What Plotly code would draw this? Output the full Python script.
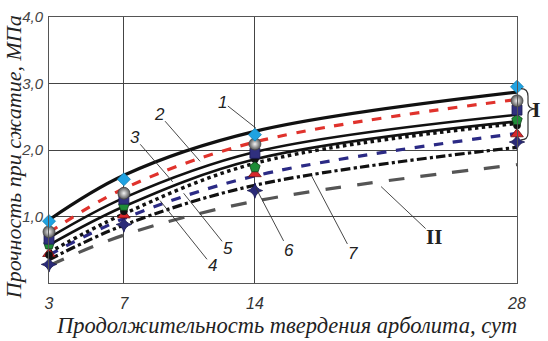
import plotly.graph_objects as go

# ---- data ----
days = [3, 7, 14, 28]

# fitted curves (lines)
curve_1 = [0.95, 1.62, 2.28, 2.87]   # black solid
curve_2 = [0.76, 1.42, 2.12, 2.76]   # red dashed
curve_3 = [0.68, 1.28, 1.97, 2.53]   # black solid
curve_4 = [0.57, 1.15, 1.86, 2.43]   # black solid
curve_5 = [0.46, 1.04, 1.80, 2.40]   # black dotted
curve_6 = [0.42, 0.97, 1.61, 2.25]   # blue dashed
curve_7 = [0.35, 0.87, 1.47, 2.04]   # black dash-dot
curve_II = [0.26, 0.72, 1.23, 1.78]  # grey long dash

# experimental points (markers)
pts_diamond = [0.93, 1.56, 2.23, 2.95]
pts_sphere = [0.77, 1.35, 2.09, 2.74]
pts_square = [0.66, 1.26, 1.95, 2.60]
pts_dot = [0.42, 1.08, 1.86, 2.37]
pts_pentagon = [0.58, 1.16, 1.74, 2.45]
pts_triangle = [0.44, 1.02, 1.64, 2.24]
pts_star = [0.28, 0.88, 1.39, 2.12]

x_ticks = [3, 7, 14, 28]
x_ticktext = ["3", "7", "14", "28"]
y_ticks = [0, 1, 2, 3, 4]
y_ticktext = ["", "1,0", "2,0", "3,0", "4,0"]

labels = ["1", "2", "3", "4", "5", "6", "7", "II"]
label_x = [14.05, 11.07, 9.61, 8.93, 10.19, 14.05, 17.03, 20.74]
label_y = [2.33, 1.83, 1.52, 1.24, 1.35, 1.43, 1.61, 1.45]
label_dx = [-33, -41, -38, 52, 44, 33, 41, 53]
label_dy = [-26, -47, -44, 65, 55, 63, 78, 50]

x_title = "Продолжительность твердения арболита, сут"
y_title = "Прочность при сжатие, МПа"

# ---- figure ----
W, H = 548, 341
ML, MR, MT, MB = 49, 31, 8, 58
PW, PH = W - ML - MR, H - MT - MB


def px(xp):
    return (xp - ML) / PW


def py(yp):
    return (H - MB - yp) / PH


fig = go.Figure()

line_specs = [
    (curve_II, "#555555", "longdash", 3.2),
    (curve_7, "#111111", "dashdot", 3.2),
    (curve_6, "#2b2a85", "dash", 3.2),
    (curve_5, "#111111", "dot", 3.5),
    (curve_4, "#111111", "solid", 2.6),
    (curve_3, "#111111", "solid", 2.6),
    (curve_2, "#e0322c", "dash", 3.2),
    (curve_1, "#111111", "solid", 3.2),
]
for ys, col, dash, w in line_specs:
    fig.add_trace(go.Scatter(x=days, y=ys, mode="lines",
                             line=dict(color=col, width=w, dash=dash, shape="spline"),
                             showlegend=False, hoverinfo="skip", cliponaxis=False))

marker_specs = [
    (pts_star, "star-diamond", "#2a2a78", 11, "#1a1a50", None),
    (pts_triangle, "triangle-up", "#d8262a", 11, "#701010", None),
    (pts_dot, "circle", "#111111", 7, "#111111", None),
    (pts_pentagon, "pentagon", "#1e8c36", 11, "#103c18", None),
    (pts_square, "square", "#30307e", 10, "#1a1a50", None),
    (pts_sphere, "circle", "#555555", 12, "#444444", "#f4f4f4"),
    (pts_diamond, "diamond", "#1fa2e2", 10, "#1580b0", None),
]
for ys, sym, col, size, lc, grad in marker_specs:
    m = dict(symbol=sym, color=col, size=size, line=dict(color=lc, width=0.8))
    if grad:
        m["gradient"] = dict(type="radial", color=grad)
    fig.add_trace(go.Scatter(x=days, y=ys, mode="markers", marker=m,
                             showlegend=False, hoverinfo="skip", cliponaxis=False))

annotations = []
for t, x, y, dx, dy in zip(labels, label_x, label_y, label_dx, label_dy):
    bold = t == "II"
    annotations.append(dict(
        x=x, y=y, xref="x", yref="y", text=("<b>%s</b>" % t) if bold else t,
        showarrow=True, arrowhead=0, arrowwidth=0.9, arrowcolor="#333333",
        ax=dx, ay=dy, axref="pixel", ayref="pixel",
        font=dict(family="Liberation Serif" if bold else "Liberation Sans",
                  size=21 if bold else 17, color="#222222",
                  style="normal" if bold else "italic"),
        standoff=0, borderpad=0,
    ))

annotations.append(dict(x=px(543), y=py(104), xref="paper", yref="paper",
                        text="<b>I</b>", showarrow=False,
                        font=dict(family="Liberation Serif", size=22, color="#222222")))
annotations.append(dict(x=px(286), y=py(327), xref="paper", yref="paper",
                        text=x_title, showarrow=False, xanchor="center", yanchor="middle",
                        font=dict(family="Liberation Serif", size=22.5, color="#222222",
                                  style="italic")))
annotations.append(dict(x=px(13), y=py(153), xref="paper", yref="paper",
                        text=y_title, showarrow=False, textangle=-90,
                        xanchor="center", yanchor="middle",
                        font=dict(family="Liberation Serif", size=22, color="#222222",
                                  style="italic")))

# curly bracket for group I
bp = [(521, 82), (528, 82), (528, 90), (528, 97), (528, 103), (536, 103),
      (528, 103), (528, 109), (528, 128), (528, 135), (521, 135)]
P = [(px(a), py(b)) for a, b in bp]
path = ("M {0[0]},{0[1]} Q {1[0]},{1[1]} {2[0]},{2[1]} L {3[0]},{3[1]} "
        "Q {4[0]},{4[1]} {5[0]},{5[1]} Q {6[0]},{6[1]} {7[0]},{7[1]} "
        "L {8[0]},{8[1]} Q {9[0]},{9[1]} {10[0]},{10[1]}").format(*P)
shapes = [dict(type="path", path=path, xref="paper", yref="paper",
               line=dict(color="#333333", width=1.2))]

fig.update_layout(
    width=W, height=H,
    margin=dict(l=ML, r=MR, t=MT, b=MB),
    paper_bgcolor="white", plot_bgcolor="white",
    annotations=annotations, shapes=shapes,
    xaxis=dict(range=[3, 28], tickvals=x_ticks, ticktext=x_ticktext,
               showgrid=True, gridcolor="#444444", gridwidth=1,
               showline=True, linecolor="#555555", linewidth=1, mirror=True,
               ticks="", zeroline=False, ticklabelstandoff=6,
               ticklabeloverflow="allow",
               tickfont=dict(family="Liberation Sans", size=16, color="#333333",
                             style="italic")),
    yaxis=dict(range=[0, 4], tickvals=y_ticks, ticktext=y_ticktext,
               showgrid=True, gridcolor="#444444", gridwidth=1,
               showline=True, linecolor="#555555", linewidth=1, mirror=True,
               ticks="", zeroline=False, ticklabelstandoff=2,
               ticklabeloverflow="allow",
               tickfont=dict(family="Liberation Sans", size=15, color="#444444",
                             style="italic")),
)

fig.write_html("out.html")
